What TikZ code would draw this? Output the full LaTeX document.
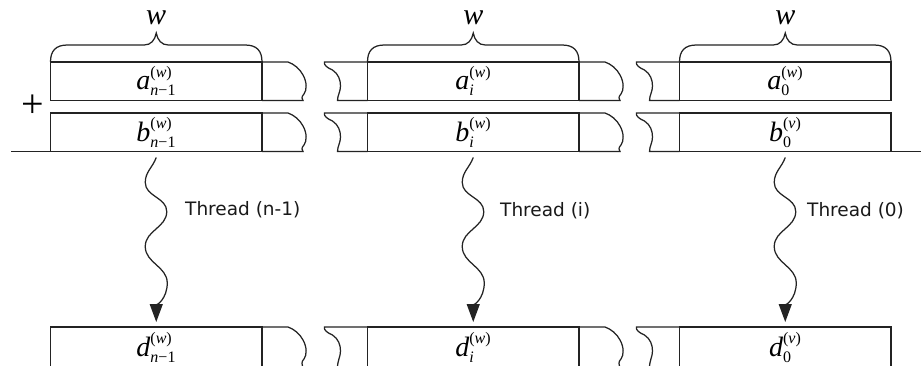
\documentclass[tikz,border=0pt]{standalone}
\usepackage{amsmath}
\usepackage{fontspec}
\setmainfont{Liberation Serif}
\newfontfamily\threadfont{DejaVu Sans}
\DeclareMathSizes{28}{28}{16}{12}
\usetikzlibrary{arrows.meta,calc}
\definecolor{linec}{RGB}{35,35,35}
\tikzset{
  ln/.style={draw=linec, line width=1.25pt},
  cell/.style={ln, minimum width=211.5pt, minimum height=38.5pt, inner sep=0pt, outer sep=0pt,
    anchor=north west, font=\fontsize{28}{30}\selectfont},
  wlab/.style={font=\fontsize{30}{32}\selectfont\itshape, anchor=base, inner sep=0pt},
  thr/.style={ln, -{Triangle[length=18pt,width=13pt]}},
  tlab/.style={font=\threadfont\fontsize{18.5}{22}\selectfont, anchor=base west, inner sep=0pt, text=black!90},
}
\newcommand{\lab}[3]{$\textit{#1}^{\text{(\textit{#3})}}_{\text{#2}}$}
\newcommand{\rwave}[2]{\draw[ln, shift={(#1)}] (0,0) -- (26,0) .. controls (32,-2) and (38,-7) .. (41,-13) .. controls (45,-20) and (45,-28) .. (42,-32) .. controls (39,-35) and (40,-37) .. (41,-#2) -- (0,-#2);}
\newcommand{\lwave}[2]{\draw[ln, shift={(#1)}] (0,0) -- (-43,0) .. controls (-44,-3) and (-40,-6) .. (-35,-8) .. controls (-29,-12) and (-27,-18) .. (-27,-24) .. controls (-27,-30) and (-30,-33) .. (-30,-#2) -- (0,-#2);}
\newcommand{\topbrace}[1]{\draw[ln, shift={(#1.north west)}] (0,0) .. controls (0,11) and (5,17) .. (17,17) -- (93.75,17) .. controls (100.5,17) and (104.5,22) .. (105.75,29) .. controls (107,22) and (111,17) .. (117.75,17) -- (194.5,17) .. controls (206.5,17) and (211.5,11) .. (211.5,0);}
\newcommand{\thread}[2]{\draw[thr] ([yshift=-6pt]#1.south) to[out=-110,in=90] ++(-11,-25) to[out=-90,in=90] ++(21.5,-29) to[out=-90,in=90] ++(-21.5,-35) to[out=-90,in=90] ++(22,-36.5) to[out=-90,in=90] ([yshift=5pt]#2.north);}
\begin{document}
\begin{tikzpicture}[x=1pt,y=1pt]
\useasboundingbox (0,0) rectangle (921,365);
\clip (0,0) rectangle (921,365);
% block n-1
\node[cell] (a1) at (50.5,303) {\lab{a}{\textit{n}−1}{w}};
\node[cell] (b1) at (50.5,252) {\lab{b}{\textit{n}−1}{w}};
\node[cell, minimum height=41pt] (d1) at (50.5,38) {\lab{d}{\textit{n}−1}{w}};
% block i
\node[cell] (a2) at (367.5,303) {\lab{a}{\textit{i}}{w}};
\node[cell] (b2) at (367.5,252) {\lab{b}{\textit{i}}{w}};
\node[cell, minimum height=41pt] (d2) at (367.5,38) {\lab{d}{\textit{i}}{w}};
% block 0
\node[cell] (a3) at (679.5,303) {\lab{a}{0}{w}};
\node[cell] (b3) at (679.5,252) {\lab{b}{0}{v}};
\node[cell, minimum height=41pt] (d3) at (679.5,38) {\lab{d}{0}{v}};
% torn extensions
\rwave{a1.north east}{38.5}
\rwave{b1.north east}{38.5}
\rwave{d1.north east}{41}
\lwave{a2.north west}{38.5}
\lwave{b2.north west}{38.5}
\lwave{d2.north west}{41}
\rwave{a2.north east}{38.5}
\rwave{b2.north east}{38.5}
\rwave{d2.north east}{41}
\lwave{a3.north west}{38.5}
\lwave{b3.north west}{38.5}
\lwave{d3.north west}{41}
% braces and widths
\topbrace{a1}\topbrace{a2}\topbrace{a3}
\node[wlab] (w1) at ([yshift=37pt]a1.north) {w};
\node[wlab] (w2) at ([yshift=37pt]a2.north) {w};
\node[wlab] (w3) at ([yshift=37pt]a3.north) {w};
% plus and sum line
\node[font=\fontsize{40}{42}\selectfont, inner sep=0pt] (plus) at (33,259) {+};
\coordinate (bl) at (11,213.5);
\coordinate (br) at (921,213.5);
\draw[ln] (bl) -- (b1.south west);
\draw[ln] (b3.south east) -- (br);
% threads
\thread{b1}{d1}
\thread{b2}{d2}
\thread{b3}{d3}
\node[tlab] (t1) at (185,150) {Thread (n-1)};
\node[tlab] (t2) at (500,149) {Thread (i)};
\node[tlab] (t3) at (807,148.5) {Thread (0)};
\end{tikzpicture}
\end{document}
